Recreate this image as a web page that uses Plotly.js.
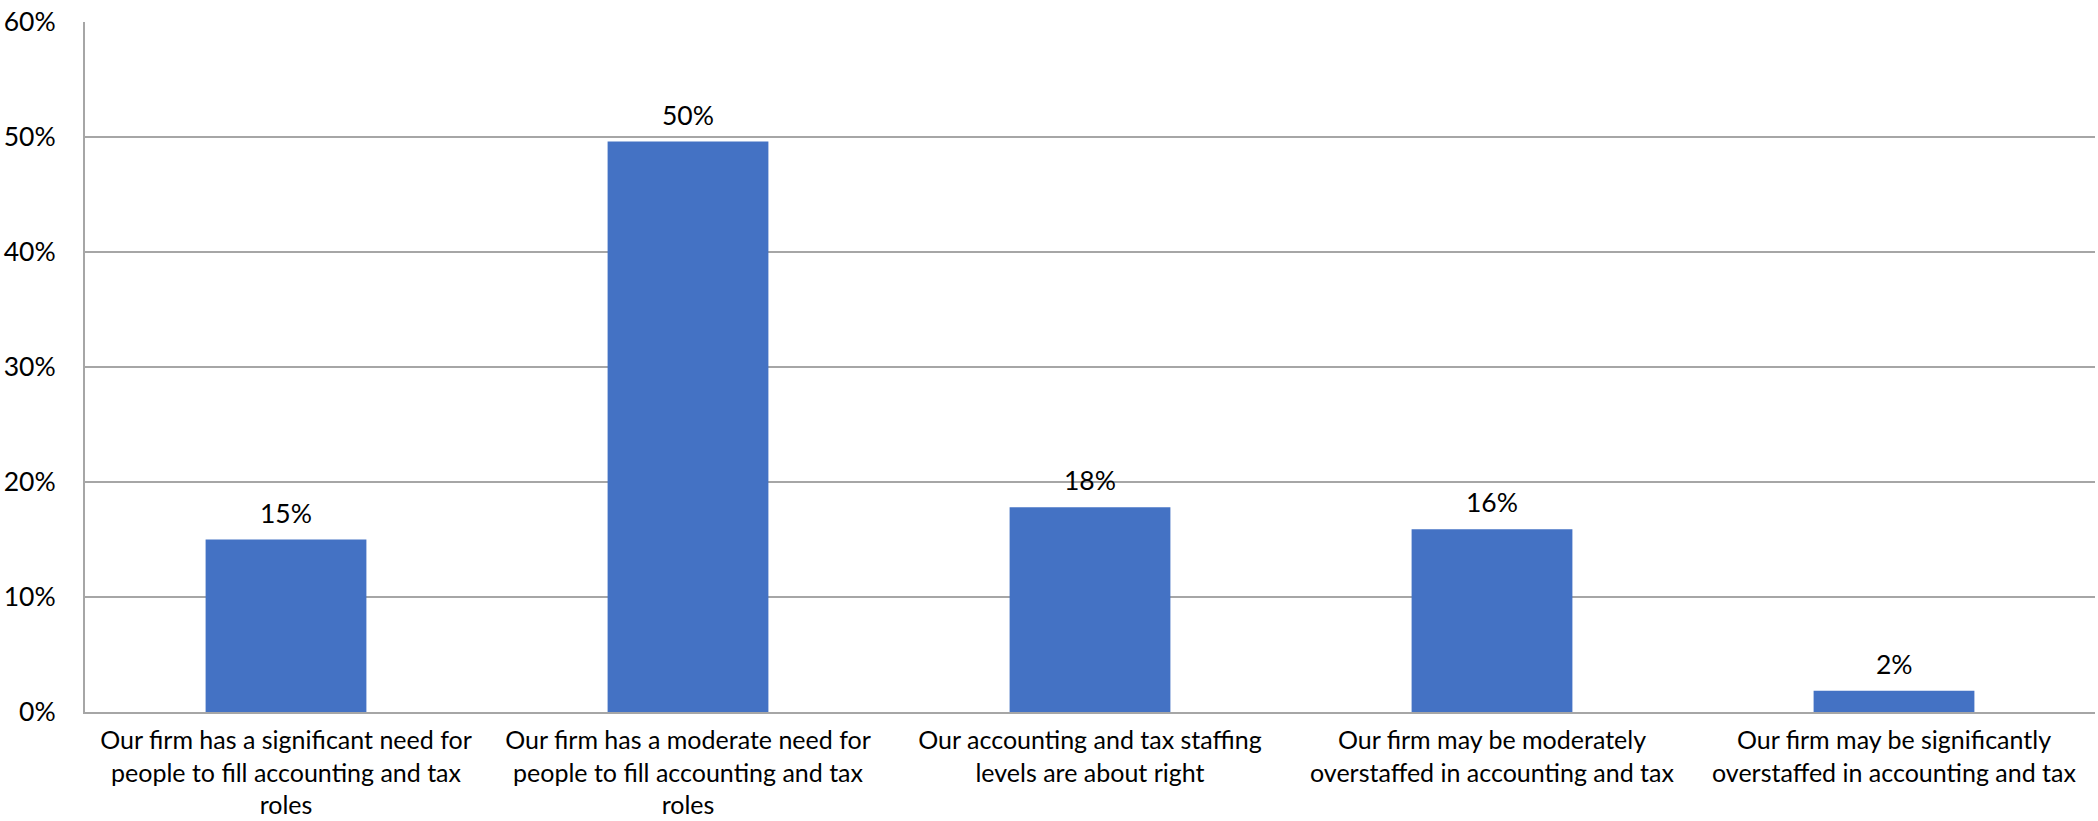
<!DOCTYPE html>
<html>
<head>
<meta charset="utf-8">
<script src="https://cdn.plot.ly/plotly-3.0.1.min.js"></script>
<style>html,body{margin:0;padding:0;background:#fff;}#chart{width:2098px;height:821px;}</style>
</head>
<body>
<div id="chart"></div>
<script>
const categories = [
  "Our firm has a significant need for people to fill accounting and tax roles",
  "Our firm has a moderate need for people to fill accounting and tax roles",
  "Our accounting and tax staffing levels are about right",
  "Our firm may be moderately overstaffed in accounting and tax",
  "Our firm may be significantly overstaffed in accounting and tax"
];
const tickLabels = [
  "Our firm has a significant need for<br>people to fill accounting and tax<br>roles",
  "Our firm has a moderate need for<br>people to fill accounting and tax<br>roles",
  "Our accounting and tax staffing<br>levels are about right",
  "Our firm may be moderately<br>overstaffed in accounting and tax",
  "Our firm may be significantly<br>overstaffed in accounting and tax"
];
const values = [15.0, 49.6, 17.8, 15.9, 1.85];
const yTicks = [0, 10, 20, 30, 40, 50, 60];
const yTickLabels = ["0%", "10%", "20%", "30%", "40%", "50%", "60%"];

const FONT = "Lato, 'Open Sans', sans-serif";
const FS = 26.5;
const XFS = 25;
const trace = {
  type: 'bar',
  x: categories,
  y: values,
  marker: {color: '#4472C4'},
  hoverinfo: 'none'
};
const annotations = categories.map((c, i) => ({
  x: c, y: values[i], xref: 'x', yref: 'y',
  text: Math.round(values[i]) + '%',
  showarrow: false, yanchor: 'bottom', yshift: 9,
  font: {family: FONT, size: FS, color: '#000'}
}));
const layout = {
  width: 2098, height: 821,
  margin: {l: 85, r: 3, t: 22, b: 109, pad: 0},
  paper_bgcolor: '#fff', plot_bgcolor: '#fff',
  bargap: 0.6,
  showlegend: false,
  font: {family: FONT, size: FS, color: '#000'},
  xaxis: {
    tickmode: 'array', tickvals: categories, ticktext: tickLabels,
    showline: true, linecolor: '#a6a6a6', linewidth: 2,
    ticks: '', showgrid: false, zeroline: false,
    tickangle: 0, automargin: false,
    ticklabelstandoff: 5,
    tickfont: {family: FONT, size: XFS, color: '#000'}
  },
  yaxis: {
    range: [0, 60], tickmode: 'array', tickvals: yTicks, ticktext: yTickLabels,
    showgrid: true, gridcolor: '#a6a6a6', gridwidth: 2,
    showline: true, linecolor: '#a6a6a6', linewidth: 2,
    zeroline: false, ticks: '', automargin: false,
    ticklabelstandoff: 22,
    tickfont: {family: FONT, size: FS, color: '#000'}
  },
  annotations: annotations
};
Plotly.newPlot('chart', [trace], layout, {staticPlot: true, displayModeBar: false});
</script>
</body>
</html>
